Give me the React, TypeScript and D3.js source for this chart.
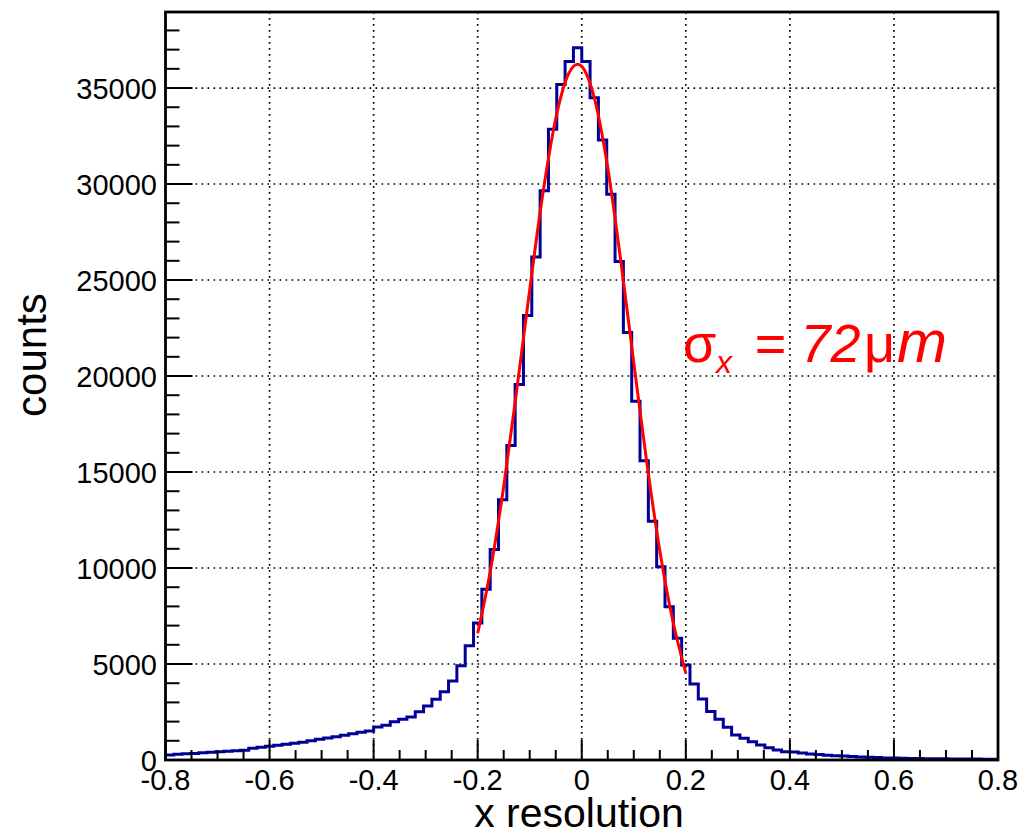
import { useEffect, useRef } from 'react';
import * as d3 from 'd3';

// histogram: 100 bins of 0.016 from -0.8 to 0.8
const BIN_LOW = -0.8;
const BIN_WIDTH = 0.016;
const binCounts = [
  260, 295, 330, 345, 380, 400, 435, 450, 485, 505,
  610, 660, 710, 765, 815, 870, 920, 1005, 1075, 1145,
  1215, 1285, 1370, 1440, 1510, 1720, 1805, 1995, 2120, 2240,
  2515, 2810, 3160, 3560, 4115, 4915, 5945, 7140, 8890, 10960,
  13560, 16380, 19560, 23150, 26200, 29650, 32850, 35180, 36380, 37100,
  36380, 34500, 32290, 29470, 25970, 22270, 18680, 15590, 12430, 10060,
  7980, 6340, 4950, 3960, 3180, 2520, 2120, 1700, 1300, 1130,
  955, 780, 640, 520, 435, 420, 365, 315, 280, 245,
  225, 205, 180, 160, 140, 125, 110, 100, 90, 80,
  75, 70, 65, 60, 55, 52, 50, 46, 44, 40,
];

// red fit curve
const fitX = [-0.2, -0.175, -0.15, -0.125, -0.1, -0.075, -0.05, -0.025, -0.008, 0, 0.025, 0.05, 0.075, 0.1, 0.125, 0.15, 0.175, 0.2];
const fitY = [6600, 9950, 14250, 19250, 24500, 29450, 33400, 35760, 36240, 36130, 34400, 30850, 26000, 20700, 15500, 10900, 7250, 4530];

const xTicks = [-0.8, -0.6, -0.4, -0.2, 0, 0.2, 0.4, 0.6, 0.8];
const xTickLabels = ['-0.8', '-0.6', '-0.4', '-0.2', '0', '0.2', '0.4', '0.6', '0.8'];
const yTicks = [0, 5000, 10000, 15000, 20000, 25000, 30000, 35000];
const yTickLabels = ['0', '5000', '10000', '15000', '20000', '25000', '30000', '35000'];

const FONT = '"Liberation Sans", Arial, Helvetica, sans-serif';

export default function App() {
  const svgRef = useRef<SVGSVGElement>(null);

  useEffect(() => {
    if (!svgRef.current) return;
    const svg = d3.select(svgRef.current);
    svg.selectAll('*').remove();

    const left = 165.5, right = 998, top = 12, bottom = 760;
    const x = d3.scaleLinear().domain([-0.8, 0.8]).range([left, right]);
    const y = d3.scaleLinear().domain([0, 38960]).range([bottom, top]);

    svg.append('rect').attr('width', 1022).attr('height', 834).attr('fill', '#fff');

    // grid
    const grid = svg.append('g')
      .attr('stroke', '#000')
      .attr('stroke-width', 1.7)
      .attr('stroke-dasharray', '1.7 4.3');
    xTicks.slice(1, -1).forEach((t) => {
      grid.append('line').attr('x1', x(t)).attr('x2', x(t)).attr('y1', top).attr('y2', bottom);
    });
    yTicks.slice(1).forEach((t) => {
      grid.append('line').attr('x1', left).attr('x2', right).attr('y1', y(t)).attr('y2', y(t));
    });

    // histogram outline
    const pts: [number, number][] = [];
    binCounts.forEach((c, i) => {
      const x0 = BIN_LOW + i * BIN_WIDTH;
      pts.push([x0, c], [x0 + BIN_WIDTH, c]);
    });
    const histLine = d3.line<[number, number]>()
      .x((d) => x(d[0]))
      .y((d) => y(d[1]));
    svg.append('path')
      .datum(pts)
      .attr('fill', 'none')
      .attr('stroke', '#000099')
      .attr('stroke-width', 3)
      .attr('d', histLine);

    // fit
    const fitLine = d3.line<number>()
      .x((_, i) => x(fitX[i]))
      .y((d) => y(d))
      .curve(d3.curveMonotoneX);
    svg.append('path')
      .datum(fitY)
      .attr('fill', 'none')
      .attr('stroke', '#ff0000')
      .attr('stroke-width', 3)
      .attr('d', fitLine);

    // frame
    svg.append('rect')
      .attr('x', left).attr('y', top)
      .attr('width', right - left).attr('height', bottom - top)
      .attr('fill', 'none')
      .attr('stroke', '#000')
      .attr('stroke-width', 2.8);

    // ticks
    const ticks = svg.append('g').attr('stroke', '#000').attr('stroke-width', 2);
    d3.range(0, 39000, 1000).forEach((v) => {
      const len = v % 5000 === 0 ? 27 : 14;
      ticks.append('line').attr('x1', left).attr('x2', left + len).attr('y1', y(v)).attr('y2', y(v));
    });
    d3.range(-16, 17).forEach((k) => {
      const v = k * 0.05;
      const len = k % 4 === 0 ? 20 : 10;
      ticks.append('line').attr('x1', x(v)).attr('x2', x(v)).attr('y1', bottom).attr('y2', bottom - len);
    });

    // tick labels
    const labels = svg.append('g')
      .attr('font-family', FONT)
      .attr('font-size', 29)
      .attr('fill', '#000');
    yTicks.forEach((t, i) => {
      labels.append('text')
        .attr('x', 157)
        .attr('y', y(t) + 10.5)
        .attr('text-anchor', 'end')
        .text(yTickLabels[i]);
    });
    xTicks.forEach((t, i) => {
      labels.append('text')
        .attr('x', x(t))
        .attr('y', 790)
        .attr('text-anchor', 'middle')
        .text(xTickLabels[i]);
    });

    // axis titles
    svg.append('text')
      .attr('x', 579).attr('y', 827)
      .attr('text-anchor', 'middle')
      .attr('font-family', FONT)
      .attr('font-size', 41)
      .text('x resolution');
    svg.append('text')
      .attr('transform', 'translate(46,355) rotate(-90)')
      .attr('text-anchor', 'middle')
      .attr('font-family', FONT)
      .attr('font-size', 42)
      .text('counts');

    // sigma annotation
    const ann = svg.append('text')
      .attr('y', 362)
      .attr('font-family', FONT)
      .attr('font-size', 54)
      .attr('fill', '#ff0000');
    ann.append('tspan').attr('x', 683).text('σ');
    ann.append('tspan').attr('x', 716).attr('dy', 11).attr('font-size', 32).attr('font-style', 'italic').text('x');
    ann.append('tspan').attr('x', 754).attr('dy', -11).attr('font-style', 'italic').text('= 72');
    ann.append('tspan').attr('x', 864).text('μ');
    ann.append('tspan').attr('x', 897).attr('font-style', 'italic').attr('font-size', 60).text('m');
  }, []);

  return (
    <div style={{ position: 'absolute', left: 0, top: 0 }}>
      <svg ref={svgRef} width={1022} height={834} style={{ display: 'block' }} />
    </div>
  );
}
